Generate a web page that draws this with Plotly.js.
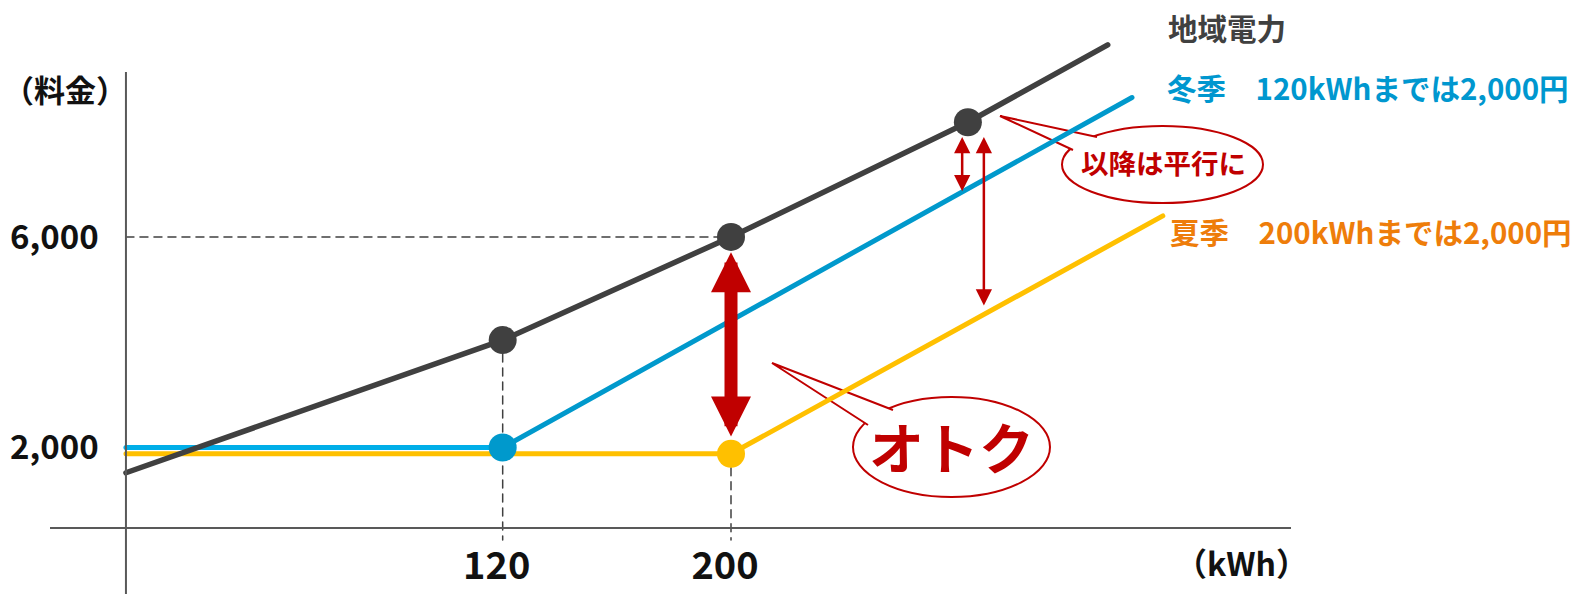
<!DOCTYPE html>
<html><head><meta charset="utf-8">
<script src="https://cdn.plot.ly/plotly-3.0.1.min.js"></script>
<style>
html,body{margin:0;padding:0;background:#fff;}
#chart{width:1573px;height:594px;}
.scatterlayer path.js-line{stroke-linecap:round;stroke-linejoin:round;}
</style></head><body><div id="chart"></div>
<script>
// ---- data ----
const tickKwh = [120, 200];
const tickKwhLabels = ['120', '200'];
const tickYen = [2000, 6000];
const tickYenLabels = ['2,000', '6,000'];

const regionalKwh = [-12, 120, 200, 283, 332];
const regionalYen = [1520, 4040, 6000, 8180, 9650];
const winterKwh = [-12, 120, 340.5];
const winterYen = [2000, 2000, 8650];
const summerKwh = [-12, 200, 351.3];
const summerYen = [1880, 1880, 6400];

const bigGapKwh = [200, 200];
const bigGapYen = [5710, 2180];
const gapAKwh = [281, 281];
const gapAYen = [7900, 6840];
const gapBKwh = [288.6, 288.6];
const gapBYen = [7900, 4670];

const seriesLabels = ['地域電力', '冬季　120kWhまでは2,000円', '夏季　200kWhまでは2,000円'];
const yTitle = '（料金）';
const xTitle = '（kWh）';
const note1 = '以降は平行に';
const note2 = 'オトク';

// ---- layout helpers ----
const W = 1573, H = 594;
const KX0 = 160.2, KS = 2.854;      // pixel of 0 kWh, pixels per kWh
const YY0 = 552.75, YS = 0.05263;   // pixel of 0 yen, pixels per yen
const xRange = [-KX0 / KS, (W - KX0) / KS];
const yRange = [(YY0 - H) / YS, YY0 / YS];
const P = x => x / W, Q = y => 1 - y / H;
const yenAtPx = y => (YY0 - y) / YS;
const F = "'Noto Sans CJK JP', 'Noto Sans', sans-serif";
const RED = '#c00000', DARK = '#404040', BLUE = '#0099cc', BLUE2 = '#00aee8', YEL = '#ffc000';
const yAxisKwh = regionalKwh[0];

const guideBottom = yenAtPx(540);
const dash = {color: DARK, width: 1.5, dash: '8px,6px'};

const traces = [
  {x: [tickKwh[0], tickKwh[0]], y: [regionalYen[1], guideBottom], mode: 'lines', line: dash},
  {x: [tickKwh[1], tickKwh[1]], y: [summerYen[1], guideBottom], mode: 'lines', line: dash},
  {x: [yAxisKwh, regionalKwh[2]], y: [regionalYen[2], regionalYen[2]], mode: 'lines', line: dash},
  {x: summerKwh, y: summerYen, mode: 'lines', line: {color: YEL, width: 5}},
  {x: winterKwh.slice(0, 2), y: winterYen.slice(0, 2), mode: 'lines', line: {color: BLUE2, width: 5}},
  {x: winterKwh.slice(1), y: winterYen.slice(1), mode: 'lines', line: {color: BLUE, width: 5}},
  {x: regionalKwh, y: regionalYen, mode: 'lines', line: {color: DARK, width: 5.5}},
  {x: regionalKwh.slice(1, 4), y: regionalYen.slice(1, 4), mode: 'markers', marker: {color: DARK, size: 28}},
  {x: [winterKwh[1]], y: [winterYen[1]], mode: 'markers', marker: {color: BLUE, size: 28}},
  {x: [summerKwh[1]], y: [summerYen[1]], mode: 'markers', marker: {color: YEL, size: 28}}
];
traces.forEach(t => { t.hoverinfo = 'skip'; t.showlegend = false; t.cliponaxis = false; });

function callout(ex0, ex1, ey0, ey1, tip, b1, b2) {
  return [
    {type: 'circle', xref: 'paper', yref: 'paper', layer: 'below', x0: P(ex0), x1: P(ex1), y0: Q(ey1), y1: Q(ey0),
     fillcolor: '#fff', line: {color: RED, width: 2}},
    {type: 'path', xref: 'paper', yref: 'paper', layer: 'below',
     path: `M${P(b1[0])},${Q(b1[1])}L${P(tip[0])},${Q(tip[1])}L${P(b2[0])},${Q(b2[1])}Z`,
     fillcolor: '#fff', line: {width: 0}},
    {type: 'path', xref: 'paper', yref: 'paper', layer: 'below',
     path: `M${P(b1[0])},${Q(b1[1])}L${P(tip[0])},${Q(tip[1])}L${P(b2[0])},${Q(b2[1])}`,
     fillcolor: 'rgba(0,0,0,0)', line: {color: RED, width: 2}}
  ];
}

const shapes = [
  {type: 'line', xref: 'x', yref: 'paper', x0: yAxisKwh, x1: yAxisKwh, y0: 0, y1: Q(72), line: {color: '#595959', width: 2}},
  {type: 'line', xref: 'paper', yref: 'paper', x0: P(50), x1: P(1291), y0: Q(528), y1: Q(528), line: {color: '#595959', width: 2}},
  ...callout(1062, 1263, 126, 203, [1000, 116], [1097, 137], [1073, 150]),
  ...callout(853, 1050, 397, 497, [772, 363], [893, 410], [868, 425])
];

function arrow(xs, ys, w, s) {
  return {x: xs[0], y: ys[0], ax: xs[1], ay: ys[1], xref: 'x', yref: 'y', axref: 'x', ayref: 'y',
    text: '', showarrow: true, arrowhead: 2, startarrowhead: 2, arrowside: 'end+start',
    arrowwidth: w, arrowsize: s, startarrowsize: s, arrowcolor: RED, standoff: 0, startstandoff: 0};
}
function label(x, y, text, size, color, xanchor) {
  return {x: P(x), y: Q(y), xref: 'paper', yref: 'paper', text: text, showarrow: false,
    xanchor: xanchor || 'center', yanchor: 'middle',
    font: {family: F, size: size, color: color, weight: 'bold'}};
}

const annotations = [
  arrow(bigGapKwh, bigGapYen, 13, 0.615),
  arrow(gapAKwh, gapAYen, 2.5, 1.3),
  arrow(gapBKwh, gapBYen, 2.5, 1.3),
  label(1, 88, yTitle, 31, '#111', 'left'),
  label(1241, 562, xTitle, 32, '#111'),
  label(1166, 27, seriesLabels[0], 29.5, DARK, 'left'),
  label(1165, 87, seriesLabels[1], 29.5, '#0097cf', 'left'),
  label(1168, 231, seriesLabels[2], 29.5, '#ee7d0a', 'left'),
  label(1163, 162, note1, 27.5, RED),
  label(951, 445, note2, 55, RED)
];

const axisCommon = {domain: [0, 1], anchor: 'free', ticks: '', showline: false, showgrid: false, zeroline: false, fixedrange: true};
const layout = {
  width: W, height: H, margin: {l: 0, r: 0, t: 0, b: 0, pad: 0},
  paper_bgcolor: '#fff', plot_bgcolor: '#fff', showlegend: false, hovermode: false,
  xaxis: Object.assign({}, axisCommon, {range: xRange, position: Q(528), tickvals: tickKwh, ticktext: tickKwhLabels,
    tickfont: {family: F, size: 38, color: '#111', weight: 'bold'}, ticklabelstandoff: 12, ticklabelshift: -6}),
  yaxis: Object.assign({}, axisCommon, {range: yRange, position: P(125.7), tickvals: tickYen, ticktext: tickYenLabels,
    tickfont: {family: F, size: 33, color: '#111', weight: 'bold'}, ticklabelstandoff: 27}),
  shapes: shapes,
  annotations: annotations
};
Plotly.newPlot('chart', traces, layout, {staticPlot: true, displayModeBar: false});
</script></body></html>
